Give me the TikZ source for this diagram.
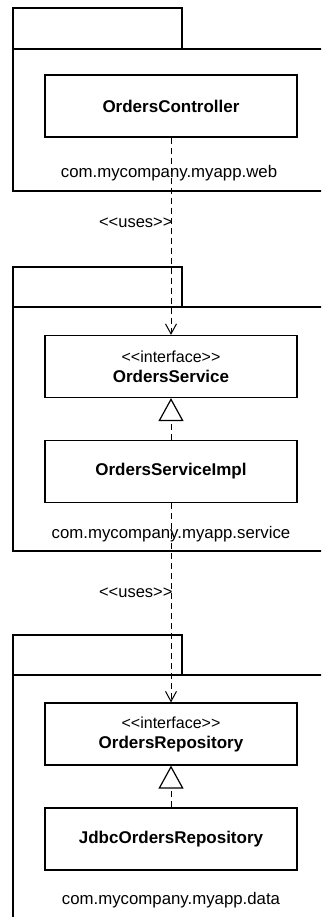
\documentclass[tikz,border=0pt]{standalone}
\usepackage{fontspec}
\setmainfont{Liberation Sans}
\usetikzlibrary{arrows.meta}
\newcommand{\stlt}{<{}<}
\newcommand{\stgt}{>{}>}
\begin{document}
\begin{tikzpicture}[x=1pt,y=-1pt,
  pkgline/.style={line width=2.6pt, line join=miter},
  classbox/.style={draw, line width=1.2pt, minimum width=252pt, minimum height=62pt,
     inner sep=0pt, align=center, font=\fontsize{17}{21}\selectfont},
  pkglabel/.style={font=\fontsize{16.8}{20}\selectfont, inner sep=0pt},
  uselabel/.style={font=\fontsize{16.5}{20}\selectfont, inner sep=0pt, anchor=east},
  dep/.style={line width=1pt, dash pattern=on 6pt off 4pt, -{Straight Barb[length=10pt,width=11pt,line width=1pt]}},
  real/.style={line width=1pt, dash pattern=on 6pt off 4pt, -{Triangle[open,length=23pt,width=25pt,line width=1.2pt]}}
]
\clip (0,0) rectangle (321,917);
\fill[white] (0,0) rectangle (321,917);
% package web
\draw[pkgline] (13,49) -- (13,8) -- (182,8) -- (182,49);
\draw[pkgline] (13,49) rectangle (340,191);
% package service
\draw[pkgline] (13,307) -- (13,267) -- (182,267) -- (182,307);
\draw[pkgline] (13,307) rectangle (340,551);
% package data
\draw[pkgline] (13,675) -- (13,635) -- (182,635) -- (182,675);
\draw[pkgline] (13,675) rectangle (340,940);

\node[classbox] (oc) at (171,106) {\bfseries OrdersController};
\node[pkglabel] (webl) at (169,173) {com.mycompany.myapp.web};

\node[classbox] (os) at (171,366.5) {{\fontsize{16}{20}\selectfont \stlt interface\stgt}\\[-1pt]\bfseries OrdersService};
\node[classbox] (osi) at (171,471.5) {\bfseries OrdersServiceImpl};
\node[pkglabel] (servl) at (171,534) {com.mycompany.myapp.service};

\node[classbox] (or) at (171,734) {{\fontsize{16}{20}\selectfont \stlt interface\stgt}\\[-1pt]\bfseries OrdersRepository};
\node[classbox] (jor) at (171,839) {\bfseries JdbcOrdersRepository};
\node[pkglabel] (datal) at (171,900) {com.mycompany.myapp.data};

\draw[dep] (oc.south) -- (os.north) node[pos=0.42, uselabel, xshift=2pt, yshift=-2pt] (u1) {\stlt uses\stgt};
\draw[real] (osi.north) -- (os.south);
\draw[dep] (osi.south) -- (or.north) node[pos=0.44, uselabel, xshift=2pt, yshift=-2pt] (u2) {\stlt uses\stgt};
\draw[real] (jor.north) -- (or.south);
\end{tikzpicture}
\end{document}
